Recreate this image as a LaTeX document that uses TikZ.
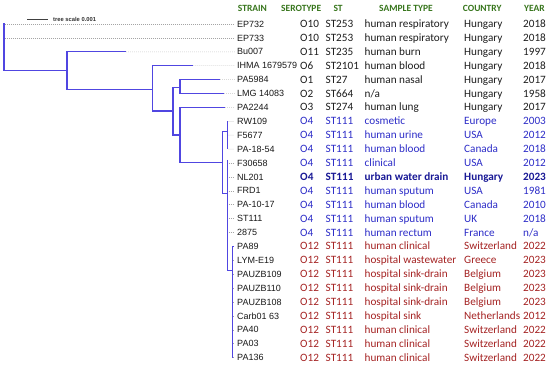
\documentclass[tikz,border=0pt]{standalone}
\usepackage{fontspec}
\setmainfont{Carlito}
\newfontfamily\arialf{Liberation Sans}
\definecolor{treeblue}{RGB}{80,70,225}
\definecolor{hdrgreen}{RGB}{56,118,29}
\definecolor{oblue}{RGB}{45,45,200}
\definecolor{odark}{RGB}{25,25,150}
\definecolor{ored}{RGB}{165,35,35}
\definecolor{leader}{RGB}{165,165,165}
\definecolor{strainc}{RGB}{25,25,25}
\definecolor{plain}{RGB}{30,30,30}
\tikzset{
  branch/.style={draw=treeblue, line width=1.4pt, line cap=rect},
  finebranch/.style={draw=treeblue, line width=0.8pt},
  leaderline/.style={draw=leader, line width=0.5pt, dash pattern=on 0.7pt off 1.3pt},
  strain/.style={anchor=base west, inner sep=0pt, font=\arialf\fontsize{9}{10}\selectfont, text=strainc},
  cell/.style={anchor=base west, inner sep=0pt, font=\fontsize{11.2}{12}\selectfont},
  hdr/.style={anchor=base west, inner sep=0pt, font=\bfseries\fontsize{9.5}{10}\selectfont, text=hdrgreen},
  blk/.style={text=plain},
  obl/.style={text=oblue},
  obb/.style={text=odark, font=\bfseries\fontsize{11.2}{12}\selectfont},
  ord/.style={text=ored}
}
\newcommand\datarow[8]{%
  \pgfmathsetmacro\ry{24+13.9*#1}%
  \coordinate (lead#1) at (234.5,\ry);
  \node[strain] (s#1) at (237,\ry+3.2) {#2};
  \node[cell,#8] (o#1) at (300,\ry+3.6) {#3};
  \node[cell,#8] (t#1) at (325.5,\ry+3.6) {#4};
  \node[cell,#8] (m#1) at (364.5,\ry+3.6) {#5};
  \node[cell,#8] (c#1) at (464,\ry+3.6) {#6};
  \node[cell,#8] (y#1) at (523,\ry+3.6) {#7};
}
\begin{document}
\begin{tikzpicture}[x=1pt,y=-1pt]
\useasboundingbox (0,0) rectangle (550,366);
\fill[white] (0,0) rectangle (550,366);

% scale bar
\coordinate (sb1) at (27,19);
\coordinate (sb2) at (48,19);
\draw[draw=black!75, line width=0.6pt] (sb1) -- (sb2);
\node[anchor=west, inner sep=0pt, font=\arialf\bfseries\fontsize{5.8}{6}\selectfont, text=black!80] (sbt) at (53,19) {tree scale 0.001};

% headers
\node[hdr] (hstrain) at (237.7,11.3) {STRAIN};
\node[hdr] (hsero) at (281,11.3) {SEROTYPE};
\node[hdr] (hst) at (333.3,11.3) {ST};
\node[hdr] (hsamp) at (379,11.3) {SAMPLE TYPE};
\node[hdr] (hcountry) at (462.7,11.3) {COUNTRY};
\node[hdr] (hyear) at (524,11.3) {YEAR};

% rows
\datarow{0}{EP732}{O10}{ST253}{human respiratory}{Hungary}{2018}{blk}
\datarow{1}{EP733}{O10}{ST253}{human respiratory}{Hungary}{2018}{blk}
\datarow{2}{Bu007}{O11}{ST235}{human burn}{Hungary}{1997}{blk}
\datarow{3}{IHMA 1679579}{O6}{ST2101}{human blood}{Hungary}{2018}{blk}
\datarow{4}{PA5984}{O1}{ST27}{human nasal}{Hungary}{2017}{blk}
\datarow{5}{LMG 14083}{O2}{ST664}{n/a}{Hungary}{1958}{blk}
\datarow{6}{PA2244}{O3}{ST274}{human lung}{Hungary}{2017}{blk}
\datarow{7}{RW109}{O4}{ST111}{cosmetic}{Europe}{2003}{obl}
\datarow{8}{F5677}{O4}{ST111}{human urine}{USA}{2012}{obl}
\datarow{9}{PA-18-54}{O4}{ST111}{human blood}{Canada}{2018}{obl}
\datarow{10}{F30658}{O4}{ST111}{clinical}{USA}{2012}{obl}
\datarow{11}{NL201}{O4}{ST111}{urban water drain}{Hungary}{2023}{obb}
\datarow{12}{FRD1}{O4}{ST111}{human sputum}{USA}{1981}{obl}
\datarow{13}{PA-10-17}{O4}{ST111}{human blood}{Canada}{2010}{obl}
\datarow{14}{ST111}{O4}{ST111}{human sputum}{UK}{2018}{obl}
\datarow{15}{2875}{O4}{ST111}{human rectum}{France}{n/a}{obl}
\datarow{16}{PA89}{O12}{ST111}{human clinical}{Switzerland}{2022}{ord}
\datarow{17}{LYM-E19}{O12}{ST111}{hospital wastewater}{Greece}{2023}{ord}
\datarow{18}{PAUZB109}{O12}{ST111}{hospital sink-drain}{Belgium}{2023}{ord}
\datarow{19}{PAUZB110}{O12}{ST111}{hospital sink-drain}{Belgium}{2023}{ord}
\datarow{20}{PAUZB108}{O12}{ST111}{hospital sink-drain}{Belgium}{2023}{ord}
\datarow{21}{Carb01 63}{O12}{ST111}{hospital sink}{Netherlands}{2012}{ord}
\datarow{22}{PA40}{O12}{ST111}{human clinical}{Switzerland}{2022}{ord}
\datarow{23}{PA03}{O12}{ST111}{human clinical}{Switzerland}{2022}{ord}
\datarow{24}{PA136}{O12}{ST111}{human clinical}{Switzerland}{2022}{ord}

% tree coordinates
\coordinate (tip0) at (4,24);
\coordinate (tip1) at (4,37.9);
\coordinate (rootb) at (4,70.7);
\coordinate (n1) at (67,70.7);
\coordinate (n1t) at (67,51.8);
\coordinate (n1b) at (67,89.3);
\coordinate (tip2) at (125,51.8);
\coordinate (n2b) at (152.3,89.3);
\coordinate (n2t) at (152.3,65.7);
\coordinate (n2l) at (152.3,111);
\coordinate (tip3) at (192.5,65.7);
\coordinate (n3a) at (173,111);
\coordinate (n3t) at (173,87.3);
\coordinate (n3b) at (173,135);
\coordinate (n4c) at (180,87.3);
\coordinate (n4t) at (180,79.6);
\coordinate (n4b) at (180,93.5);
\coordinate (tip4) at (219,79.6);
\coordinate (tip5) at (223,93.5);
\coordinate (n5c) at (180,135);
\coordinate (n5t) at (180,107.4);
\coordinate (n5b) at (180,162.7);
\coordinate (tip6) at (224,107.4);
\coordinate (n6c) at (222.3,162.7);
\coordinate (n6t) at (222.3,131.7);
\coordinate (n6b) at (222.3,193.3);
\coordinate (n7c) at (227.7,131.7);
\coordinate (tip7) at (227.7,121.3);
\coordinate (tip8) at (227.7,135.2);
\coordinate (tip9) at (227.7,149.1);
\coordinate (n8c) at (227.7,193.3);
\coordinate (n8t) at (227.7,160);
\coordinate (n8b) at (227.7,270.7);
\foreach \k in {10,...,15}{\pgfmathsetmacro\ty{24+13.9*\k}\coordinate (tip\k) at (227.7,\ty);}
\coordinate (n9c) at (232.3,270.7);
\foreach \k in {16,...,24}{\pgfmathsetmacro\ty{24+13.9*\k}\coordinate (tip\k) at (232.3,\ty);}

% leaders
\foreach \k in {0,...,24}{\draw[leaderline] ([xshift=1pt]tip\k) -- (lead\k);}

% main branches
\draw[branch] (tip0) -- (rootb) -- (n1);
\draw[branch] (n1t) -- (n1b);
\draw[branch] (n1t) -- (tip2);
\draw[branch] (n1b) -- (n2b);
\draw[branch] (n2t) -- (n2l);
\draw[branch] (n2t) -- (tip3);
\draw[branch] (n2l) -- (n3a);
\draw[branch] (n3t) -- (n3b);
\draw[branch] (n3t) -- (n4c);
\draw[branch] (n4t) -- (n4b);
\draw[branch] (n4t) -- (tip4);
\draw[branch] (n4b) -- (tip5);
\draw[branch] (n3b) -- (n5c);
\draw[branch] (n5t) -- (n5b);
\draw[branch] (n5t) -- (tip6);
\draw[branch] (n5b) -- (n6c);
% fine branches
\draw[finebranch] (n6t) -- (n6b);
\draw[finebranch] (n6t) -- (n7c);
\draw[finebranch] (tip7) -- (tip9);
\draw[finebranch] (n6b) -- (n8c);
\draw[finebranch] (n8t) -- (n8b) -- (n9c);
\draw[finebranch] (tip16) -- (tip24);
\draw[finebranch] (tip16) -- ++(1.8,0);
\end{tikzpicture}
\end{document}
